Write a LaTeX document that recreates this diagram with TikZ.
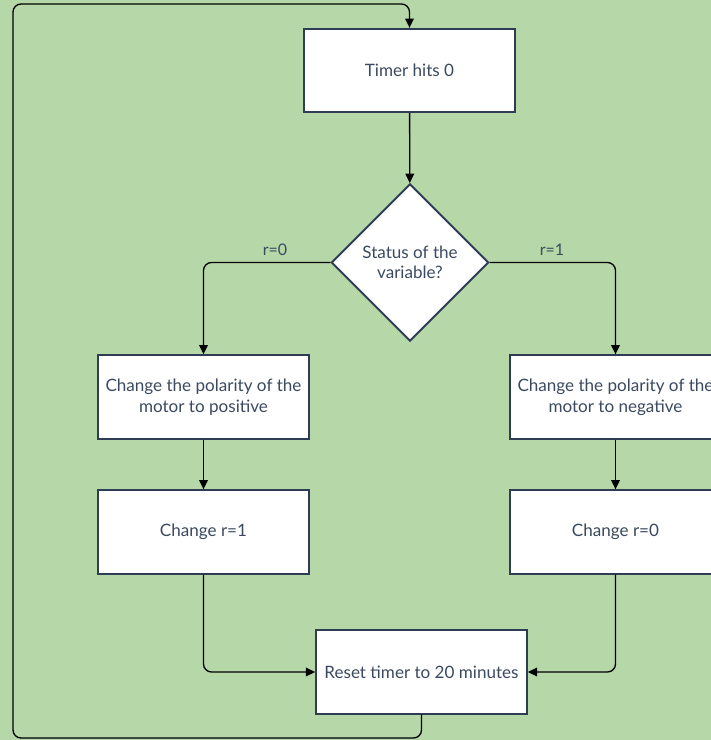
\documentclass[tikz,border=0pt]{standalone}
\usepackage{fontspec}
\setmainfont{Lato}
\usetikzlibrary{arrows.meta,shapes.geometric}
\definecolor{bg}{HTML}{B6D7A8}
\definecolor{edge}{HTML}{2E3D55}
\definecolor{txt}{HTML}{3B4A60}
\tikzset{
  box/.style={draw=edge, fill=white, line width=1.5pt, minimum width=158pt, minimum height=62.5pt, inner sep=1pt, align=center, text=txt, font=\fontsize{12.8}{16}\selectfont},
  dia/.style={draw=edge, fill=white, line width=1.5pt, shape=diamond, aspect=1, minimum width=118pt, minimum height=118pt, inner sep=0pt, align=center, text=txt, font=\fontsize{12.8}{15}\selectfont},
  conn/.style={draw=black, line width=1pt, rounded corners=6pt, -{Triangle[length=7pt,width=6.5pt]}},
  lbl/.style={text=txt, font=\fontsize{12}{14}\selectfont}
}
\begin{document}
\begin{tikzpicture}[x=0.75pt,y=-0.75pt]
\useasboundingbox (0,0) rectangle (711,740);
\clip (0,0) rectangle (711,740);
\fill[bg] (0,0) rectangle (711,740);
\node[box] (timer) at (409.5,70.5) {Timer hits 0};
\node[dia] (status) at (410,262.5) {Status of the\\variable?};
\node[box] (pos) at (203.5,397) {Change the polarity of the\\motor to positive};
\node[box] (neg) at (615.5,397) {Change the polarity of the\\motor to negative};
\node[box] (r1) at (203.5,532) {Change r=1};
\node[box] (r0) at (615.5,532) {Change r=0};
\node[box] (reset) at (421.5,672) {Reset timer to 20 minutes};
\node[lbl] (l0) at (275,250) {r=0};
\node[lbl] (l1) at (552,250) {r=1};
\coordinate (a1) at (421.5,738);
\coordinate (a2) at (13,738);
\coordinate (a3) at (13,4);
\coordinate (a4) at (409.5,4);
\draw[conn] (timer) -- (status);
\draw[conn] (status.west) -| (pos.north);
\draw[conn] (status.east) -| (neg.north);
\draw[conn] (pos) -- (r1);
\draw[conn] (neg) -- (r0);
\draw[conn] (r1.south) |- (reset.west);
\draw[conn] (r0.south) |- (reset.east);
\draw[conn] (reset.south) -- (a1) -- (a2) -- (a3) -- (a4) -- (timer.north);
\end{tikzpicture}
\end{document}
